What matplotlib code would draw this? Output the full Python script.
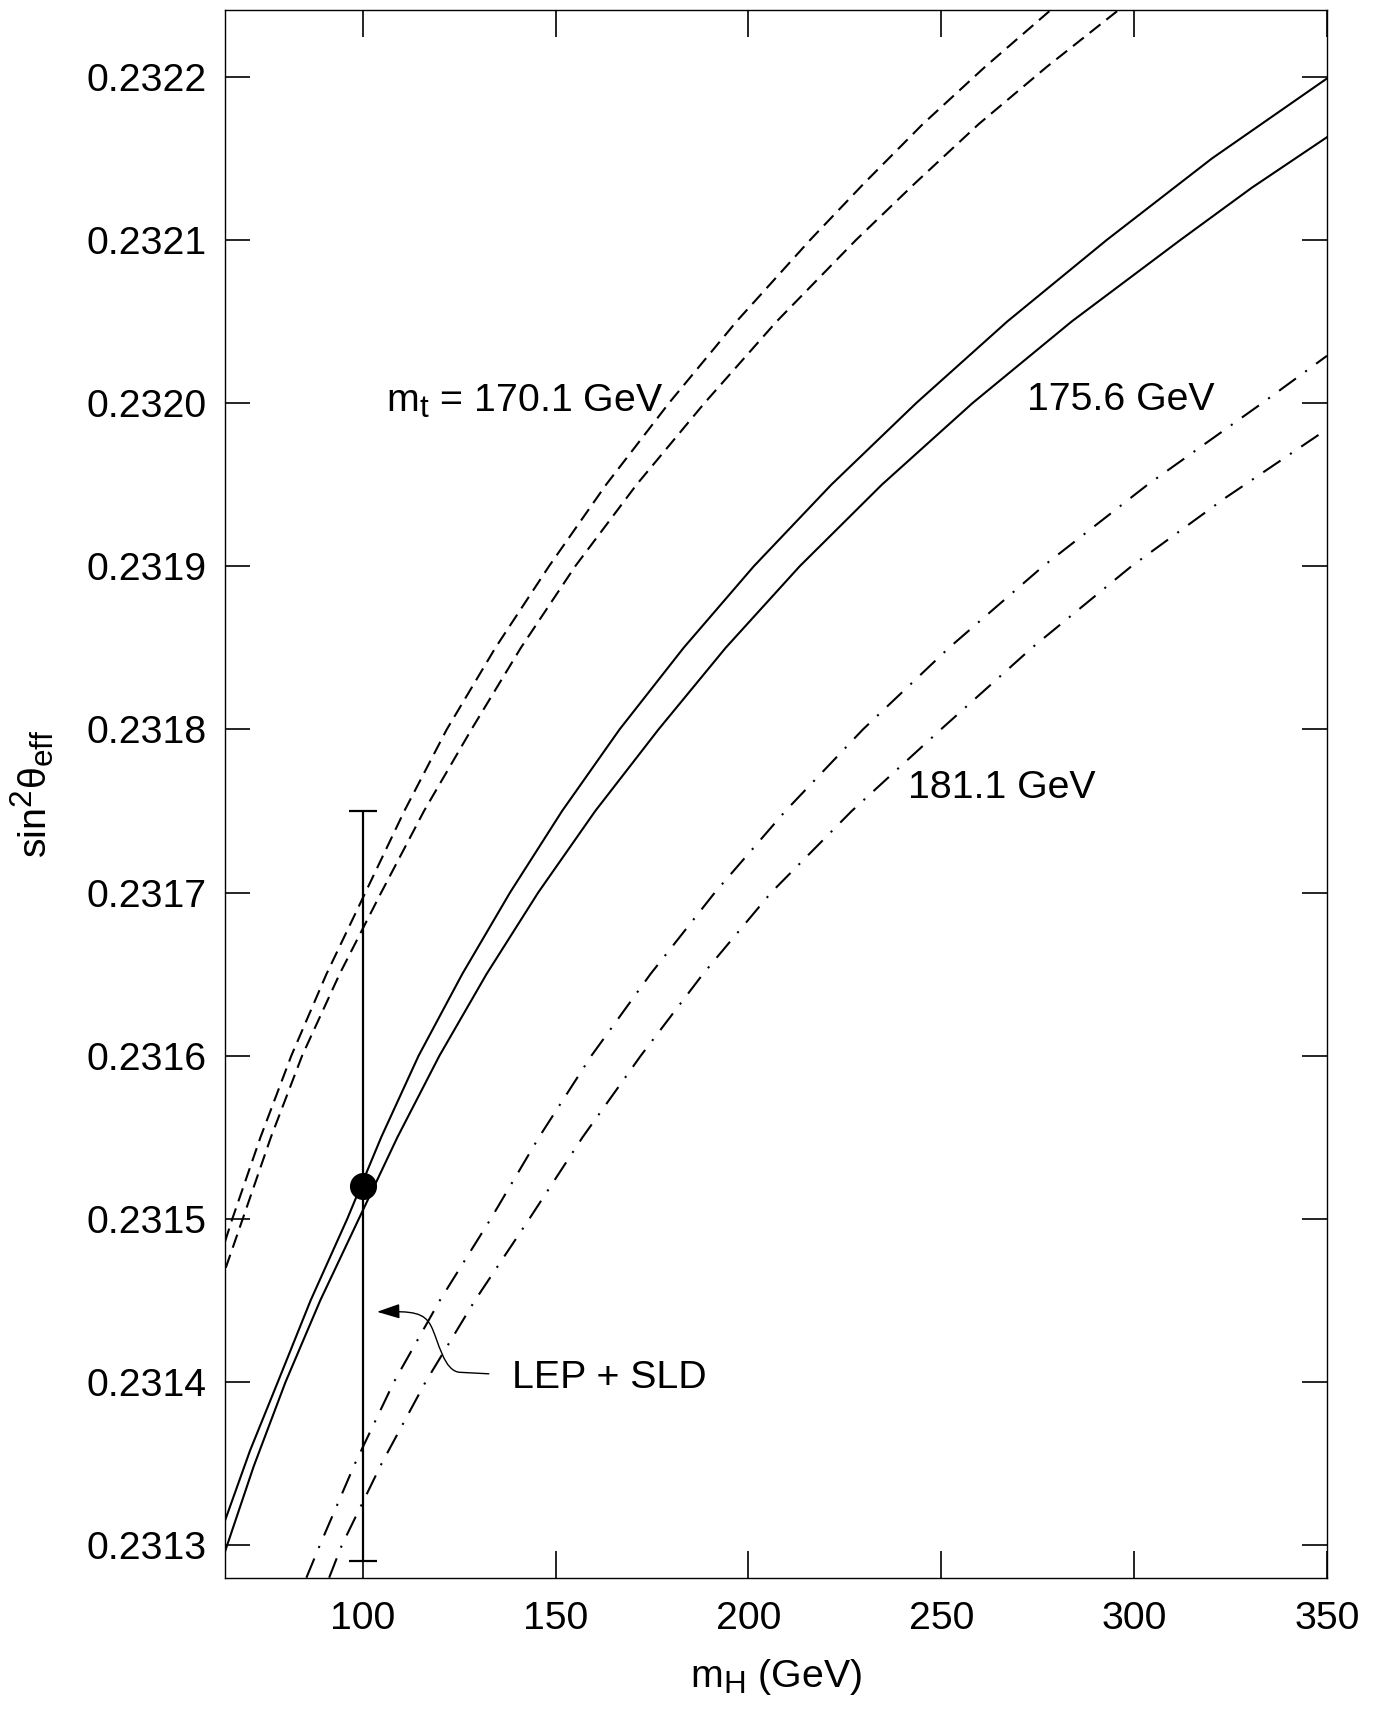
import matplotlib
matplotlib.use('Agg')
import matplotlib.pyplot as plt
import matplotlib._mathtext as mathtext_internals
from matplotlib.path import Path
from matplotlib.patches import FancyArrowPatch

# curves: (mH in GeV, sin^2 theta_eff)
# mt = 170.1 GeV (dashed)
mh_170_a = [64.3, 66.2, 73.5, 81.5, 90.6, 100.7, 110.8, 121.8, 134.4, 148.3, 163.1,
            179.4, 196.9, 216.0, 230.1, 245.2, 261.3, 278.4]
s2_170_a = [0.231486, 0.23150, 0.23155, 0.23160, 0.23165, 0.23170, 0.23175, 0.23180, 0.23185,
            0.23190, 0.23195, 0.23200, 0.23205, 0.23210, 0.232135, 0.232171, 0.232206, 0.232241]
mh_170_b = [64.5, 68.9, 76.2, 84.3, 94.0, 104.8, 115.9, 128.2, 141.0, 155.1, 171.0,
            188.6, 207.3, 227.9, 243.3, 259.7, 277.3, 296.0]
s2_170_b = [0.231470, 0.23150, 0.23155, 0.23160, 0.23165, 0.23170, 0.23175, 0.23180, 0.23185,
            0.23190, 0.23195, 0.23200, 0.23205, 0.23210, 0.232135, 0.232171, 0.232206, 0.232241]

# mt = 175.6 GeV (solid)
mh_175_a = [64.3, 70.8, 78.0, 86.5, 96.0, 104.8, 114.5, 125.8, 138.2, 151.7, 166.6,
            183.2, 201.4, 221.5, 243.5, 267.1, 292.9, 320.2, 350.0]
s2_175_a = [0.231315, 0.231358, 0.23140, 0.23145, 0.23150, 0.23155, 0.23160, 0.23165, 0.23170,
            0.23175, 0.23180, 0.23185, 0.23190, 0.23195, 0.23200, 0.23205, 0.23210, 0.232150,
            0.232199]
mh_175_b = [64.3, 71.7, 80.0, 89.0, 99.0, 109.0, 119.9, 132.1, 145.5, 160.3, 176.7,
            194.1, 213.3, 234.6, 258.1, 283.8, 312.0, 330.5, 350.0]
s2_175_b = [0.231296, 0.231348, 0.23140, 0.23145, 0.23150, 0.23155, 0.23160, 0.23165, 0.23170,
            0.23175, 0.23180, 0.23185, 0.23190, 0.23195, 0.23200, 0.23205, 0.23210, 0.232132,
            0.232163]

# mt = 181.1 GeV (dash-dot)
mh_181_a = [85.4, 88.9, 98.0, 108.1, 120.0, 133.2, 145.7, 159.3, 174.6, 191.3, 209.6,
            229.7, 252.0, 276.4, 303.5, 333.2, 350.0]
s2_181_a = [0.231280, 0.23130, 0.23135, 0.23140, 0.23145, 0.23150, 0.23155, 0.23160, 0.23165,
            0.23170, 0.23175, 0.23180, 0.23185, 0.23190, 0.23195, 0.23200, 0.232029]
mh_181_b = [91.3, 94.6, 104.9, 116.3, 129.1, 143.2, 157.0, 172.1, 188.2, 205.9, 226.8,
            249.9, 273.5, 299.3, 323.7, 350.0]
s2_181_b = [0.231280, 0.23130, 0.23135, 0.23140, 0.23145, 0.23150, 0.23155, 0.23160, 0.23165,
            0.23170, 0.23175, 0.23180, 0.23185, 0.23190, 0.231942, 0.231984]

# LEP + SLD measurement
mh_meas = [100]
s2_meas = [0.23152]
s2_err = [0.00023]

xticks = [100, 150, 200, 250, 300, 350]
yticks = [0.2313, 0.2314, 0.2315, 0.2316, 0.2317, 0.2318, 0.2319, 0.2320, 0.2321, 0.2322]

plt.rcParams['font.family'] = 'Liberation Sans'
plt.rcParams['mathtext.fontset'] = 'custom'
plt.rcParams['mathtext.rm'] = 'Liberation Sans'
plt.rcParams['mathtext.it'] = 'Liberation Sans'
plt.rcParams['mathtext.default'] = 'regular'
# sub/superscripts in the original are a bit larger than mathtext's default
mathtext_internals.SHRINK_FACTOR = 0.8

fig = plt.figure(figsize=(13.82, 17.09), dpi=100)
ax = fig.add_axes([0.1628, 0.0768, 0.7974, 0.9174])

lw = 1.5
l, = ax.plot(mh_170_a, s2_170_a, color='k', lw=lw)
l.set_dashes([6.6, 3.6])
l, = ax.plot(mh_170_b, s2_170_b, color='k', lw=lw)
l.set_dashes([6.6, 3.6])
ax.plot(mh_175_a, s2_175_a, color='k', lw=lw)
ax.plot(mh_175_b, s2_175_b, color='k', lw=lw)
l, = ax.plot(mh_181_a, s2_181_a, color='k', lw=lw)
l.set_dashes([10, 5.5, 1, 5.5])
l, = ax.plot(mh_181_b, s2_181_b, color='k', lw=lw)
l.set_dashes([10, 5.5, 1, 5.5])

ax.errorbar(mh_meas, s2_meas, yerr=s2_err, fmt='o', ms=18.5, color='k',
            elinewidth=1.6, capsize=10, capthick=1.6)

# labels on the curves
fs = 28.3
ax.text(106, 0.231995, 'm$_t$ = 170.1 GeV', fontsize=fs, ha='left', va='baseline')
ax.text(272.2, 0.231996, '175.6 GeV', fontsize=fs, ha='left', va='baseline')
ax.text(241.4, 0.231758, '181.1 GeV', fontsize=fs, ha='left', va='baseline')
ax.text(138.6, 0.231396, 'LEP + SLD', fontsize=fs, ha='left', va='baseline')

# curly arrow pointing to the error bar
verts = [(132.7, 0.231405), (125.4, 0.2314059),
         (121.0, 0.231406), (119.7, 0.2314252), (117.7, 0.2314344),
         (115.9, 0.2314424), (113.3, 0.2314436), (103.7, 0.231443)]
codes = [Path.MOVETO, Path.LINETO,
         Path.CURVE4, Path.CURVE4, Path.CURVE4,
         Path.CURVE4, Path.CURVE4, Path.CURVE4]
arrow = FancyArrowPatch(path=Path(verts, codes), arrowstyle='-|>,head_length=14,head_width=4.5',
                        color='k', lw=1.0, mutation_scale=1, shrinkA=0, shrinkB=0)
ax.add_patch(arrow)

ax.set_xlim(64.3, 350)
ax.set_ylim(0.231280, 0.232241)
ax.set_xticks(xticks)
ax.set_yticks(yticks)
ax.set_yticklabels([f'{v:.4f}' for v in yticks])
ax.tick_params(axis='both', which='major', direction='in', top=True, right=True,
               labelsize=fs, width=1.2)
ax.tick_params(axis='x', length=19.5, pad=17)
ax.tick_params(axis='y', length=18, pad=13)
for s in ax.spines.values():
    s.set_linewidth(1.0)

ax.set_xlabel('m$_H$ (GeV)', fontsize=fs, labelpad=14)
ax.set_ylabel('sin$^2$θ$_{eff}$', fontsize=fs, labelpad=22)

fig.savefig('out.png', dpi=100)
